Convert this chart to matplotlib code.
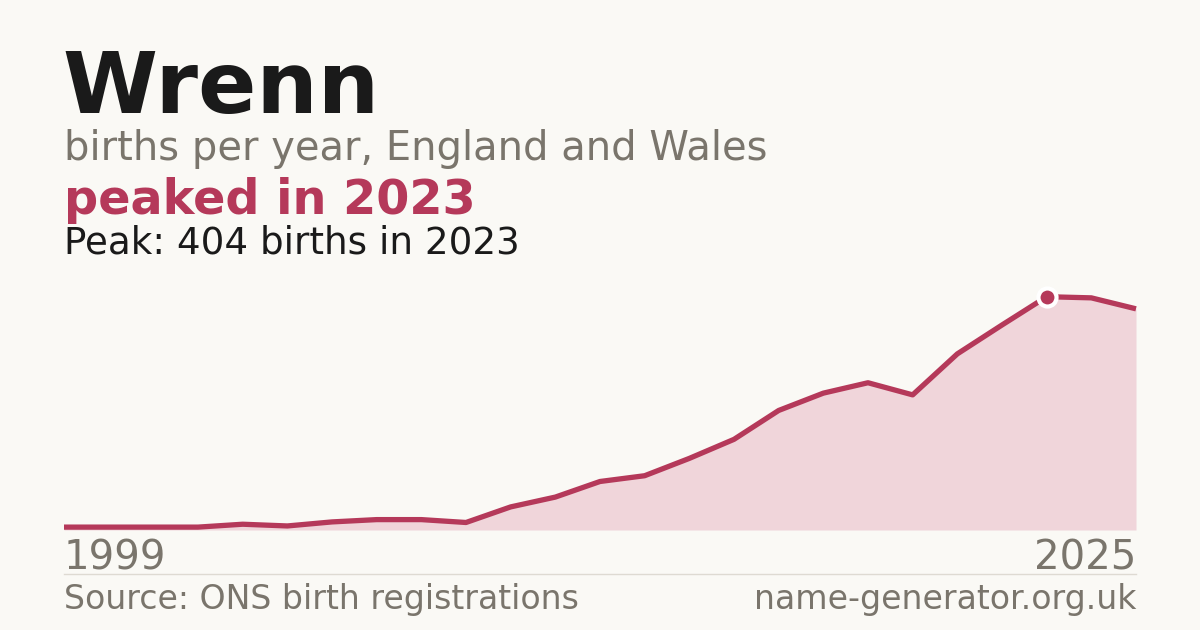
import matplotlib
matplotlib.use("Agg")
import matplotlib.pyplot as plt
import numpy as np

# ---- data ----
name = "Wrenn"
first_year = "1999"
last_year = "2025"
peak_year = 2023
peak_value = 404
births = [5, 5, 5, 5, 10, 7, 14, 18, 18, 13, 40, 57, 84, 94, 124, 157, 207, 237,
          255, 234, 305, 355, 404, 402, 383]
peak_index = 22

# ---- style ----
BG = "#faf9f5"
RED = "#b5395a"
FILL = "#f0d5da"
DARK = "#1a1a1a"
GRAY = "#7a756c"
RULE = "#dedad2"

W, H = 1200, 630
fig = plt.figure(figsize=(12, 6.3), dpi=100, facecolor=BG)

def fx(px):
    return px / W

def fy(py):
    return 1 - py / H

left, right = 64, 1136
bottom, top = 530, 270
ax = fig.add_axes([fx(left), fy(bottom), fx(right) - fx(left), (bottom - top) / H])
ax.set_facecolor(BG)
x = np.arange(len(births))
ax.set_xlim(0, len(births) - 1)
ax.set_ylim(0, peak_value * (bottom - top) / 233.3)
ax.fill_between(x, births, 0, color=FILL, lw=0, zorder=1)
ax.axhline(0, color=RULE, lw=1, zorder=0.5)
ax.plot(x, births, color=RED, lw=3.8, solid_joinstyle="round", solid_capstyle="butt", zorder=2,
        clip_on=False)
ax.plot([x[peak_index]], [births[peak_index]], "o", ms=13, mfc=RED, mec="white", mew=3,
        zorder=3, clip_on=False)
ax.axis("off")

font = "DejaVu Sans"
fig.text(fx(left - 2), fy(113), name, fontsize=62, fontweight="bold", color=DARK,
         va="baseline", ha="left", family=font)
fig.text(fx(left), fy(160), "births per year, England and Wales", fontsize=28.8, color=GRAY,
         va="baseline", ha="left", family=font)
fig.text(fx(left), fy(214), f"peaked in {peak_year}", fontsize=34.4, fontweight="bold",
         color=RED, va="baseline", ha="left", family=font)
fig.text(fx(left), fy(254), f"Peak: {peak_value} births in {peak_year}", fontsize=26.8,
         color=DARK, va="baseline", ha="left", family=font)

fig.text(fx(left), fy(569.3), first_year, fontsize=29, color=GRAY, va="baseline", ha="left",
         family=font)
fig.text(fx(right), fy(569.3), last_year, fontsize=29, color=GRAY, va="baseline", ha="right",
         family=font)

fig.add_artist(plt.Line2D([fx(left), fx(right)], [fy(574), fy(574)], color=RULE, lw=1))

fig.text(fx(left), fy(609), "Source: ONS birth registrations", fontsize=23.9, color=GRAY,
         va="baseline", ha="left", family=font)
fig.text(fx(right), fy(609), "name-generator.org.uk", fontsize=23.9, color=GRAY,
         va="baseline", ha="right", family=font)

fig.savefig("out.png", dpi=100, facecolor=BG)
